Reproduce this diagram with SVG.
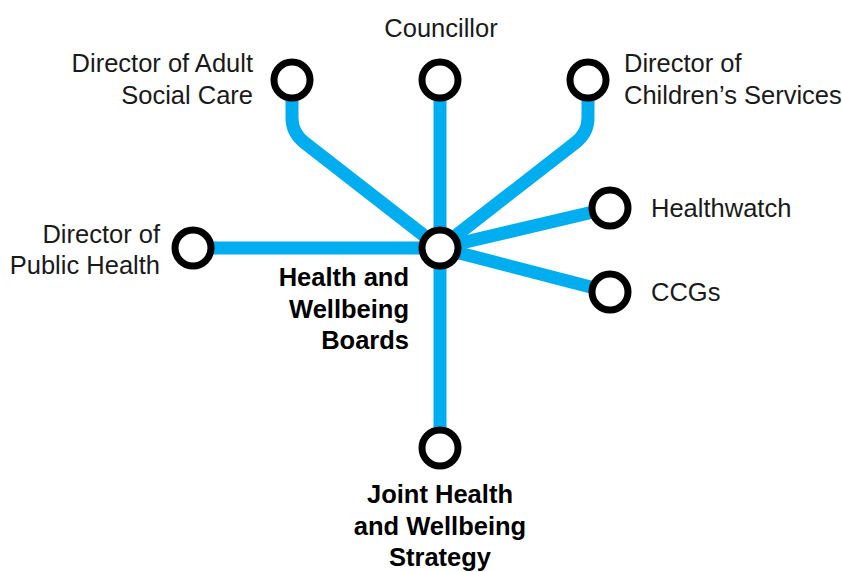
<svg xmlns="http://www.w3.org/2000/svg" width="842" height="572" viewBox="0 0 842 572">
  <style>
    .line { fill: none; stroke: #00AEEF; stroke-width: 13; stroke-linejoin: round; }
    .stop { fill: #fff; stroke: #000; stroke-width: 7; }
    .lbl { font-family: "Liberation Sans", Arial, sans-serif; font-size: 25.5px; fill: #1a1a1a; }
    .hub { font-family: "Liberation Sans", Arial, sans-serif; font-size: 25.5px; font-weight: bold; fill: #000; }
  </style>
  <rect width="842" height="572" fill="#fff"/>
  <g id="connectors">
    <path class="line" d="M292 80 V118 Q292 133 305 143 L440 248"/>
    <path class="line" d="M440 80 V248"/>
    <path class="line" d="M588 80 V118 Q588 133 575 143 L440 248"/>
    <path class="line" d="M610 208 L440 248"/>
    <path class="line" d="M610 292 L440 248"/>
    <path class="line" d="M193 248 H440"/>
    <path class="line" d="M440 248 V448"/>
  </g>
  <g id="adult-social-care">
    <circle class="stop" cx="292" cy="80" r="18"/>
    <text class="lbl" text-anchor="end" x="253" y="72">Director of Adult</text>
    <text class="lbl" text-anchor="end" x="253" y="104">Social Care</text>
  </g>
  <g id="councillor">
    <circle class="stop" cx="440" cy="80" r="18"/>
    <text class="lbl" text-anchor="middle" x="441" y="37">Councillor</text>
  </g>
  <g id="childrens-services">
    <circle class="stop" cx="588" cy="80" r="18"/>
    <text class="lbl" x="624" y="72">Director of</text>
    <text class="lbl" x="624" y="104">Children’s Services</text>
  </g>
  <g id="healthwatch">
    <circle class="stop" cx="610" cy="208" r="18"/>
    <text class="lbl" x="651" y="217">Healthwatch</text>
  </g>
  <g id="ccgs">
    <circle class="stop" cx="610" cy="292" r="18"/>
    <text class="lbl" x="651" y="301">CCGs</text>
  </g>
  <g id="public-health">
    <circle class="stop" cx="193" cy="248" r="18"/>
    <text class="lbl" text-anchor="end" x="160" y="243">Director of</text>
    <text class="lbl" text-anchor="end" x="160" y="274">Public Health</text>
  </g>
  <g id="hwb">
    <circle class="stop" cx="440" cy="248" r="18"/>
    <text class="hub" text-anchor="end" x="409" y="286">Health and</text>
    <text class="hub" text-anchor="end" x="409" y="318">Wellbeing</text>
    <text class="hub" text-anchor="end" x="409" y="349">Boards</text>
  </g>
  <g id="jhws">
    <circle class="stop" cx="440" cy="448" r="18"/>
    <text class="hub" text-anchor="middle" x="440" y="503">Joint Health</text>
    <text class="hub" text-anchor="middle" x="440" y="535">and Wellbeing</text>
    <text class="hub" text-anchor="middle" x="440" y="566">Strategy</text>
  </g>
</svg>
